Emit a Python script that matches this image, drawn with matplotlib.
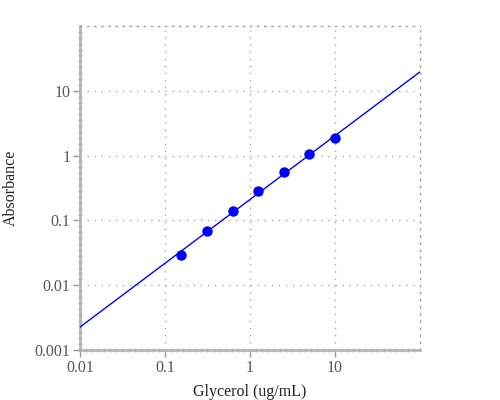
import numpy as np
import matplotlib
matplotlib.use("Agg")
import matplotlib.pyplot as plt
from matplotlib.ticker import FixedLocator, NullFormatter

# Data
concentration = [0.15625, 0.3125, 0.625, 1.25, 2.5, 5, 10]
absorbance = [0.0296, 0.0695, 0.139, 0.283, 0.553, 1.06, 1.89]
# power-law fit: log10(y) = fit_intercept + fit_slope * log10(x)
fit_slope = 0.9845
fit_intercept = -0.677

x_ticks = [0.01, 0.1, 1, 10]
x_tick_labels = ["0.01", "0.1", "1", "10"]
y_ticks = [0.001, 0.01, 0.1, 1, 10]
y_tick_labels = ["0.001", "0.01", "0.1", "1", "10"]
x_label = "Glycerol (ug/mL)"
y_label = "Absorbance"

plt.rcParams['font.family'] = ['Liberation Serif', 'DejaVu Serif']

fig = plt.figure(figsize=(5, 4), dpi=100)
ax = fig.add_axes([0.16, 0.125, 0.68, 0.81])
ax.set_xscale('log')
ax.set_yscale('log')
ax.set_xlim(0.01, 100)
ax.set_ylim(0.001, 100)

xf = np.logspace(-2, 2, 200)
yf = 10 ** (fit_intercept + fit_slope * np.log10(xf))
ax.plot(xf, yf, color='#0000ff', lw=1, zorder=3)
ax.plot(concentration, absorbance, 'o', color='#0000ff', markersize=7.5,
        markeredgewidth=0, zorder=4)

dots = (0, (0.9, 4.2))
gridkw = dict(color='#a0a0a0', lw=1, linestyle=dots)
for t in x_ticks[1:]:
    ax.axvline(t, **gridkw, zorder=1)
for t in y_ticks[1:]:
    ax.axhline(t, **gridkw, zorder=1)

for s in ['top', 'right']:
    ax.spines[s].set_color('#a0a0a0')
    ax.spines[s].set_linestyle(dots)
    ax.spines[s].set_linewidth(1)
for s in ['left', 'bottom']:
    ax.spines[s].set_color('#b4b4b4')
    ax.spines[s].set_linewidth(2)

ax.xaxis.set_major_locator(FixedLocator(x_ticks))
ax.set_xticklabels(x_tick_labels)
ax.yaxis.set_major_locator(FixedLocator(y_ticks))
ax.set_yticklabels(y_tick_labels)
ax.xaxis.set_minor_locator(FixedLocator(10 ** np.arange(-2, 2, 1 / 14)))
ax.yaxis.set_minor_locator(FixedLocator(10 ** np.arange(-3, 2, 1 / 11)))
ax.xaxis.set_minor_formatter(NullFormatter())
ax.yaxis.set_minor_formatter(NullFormatter())
ax.tick_params(which='major', direction='out', length=5, width=1,
               color='#999999', labelcolor='#555555', labelsize=11.5, pad=2)
ax.tick_params(which='minor', direction='inout', length=3, width=0.8,
               color='#a0a0a0')
ax.tick_params(top=False, right=False, which='both')

ax.set_xlabel(x_label, fontsize=11.5, color='#222222', labelpad=6)
ax.set_ylabel(y_label, fontsize=11.5, color='#222222', labelpad=11)

fig.savefig('out.png', dpi=100)
